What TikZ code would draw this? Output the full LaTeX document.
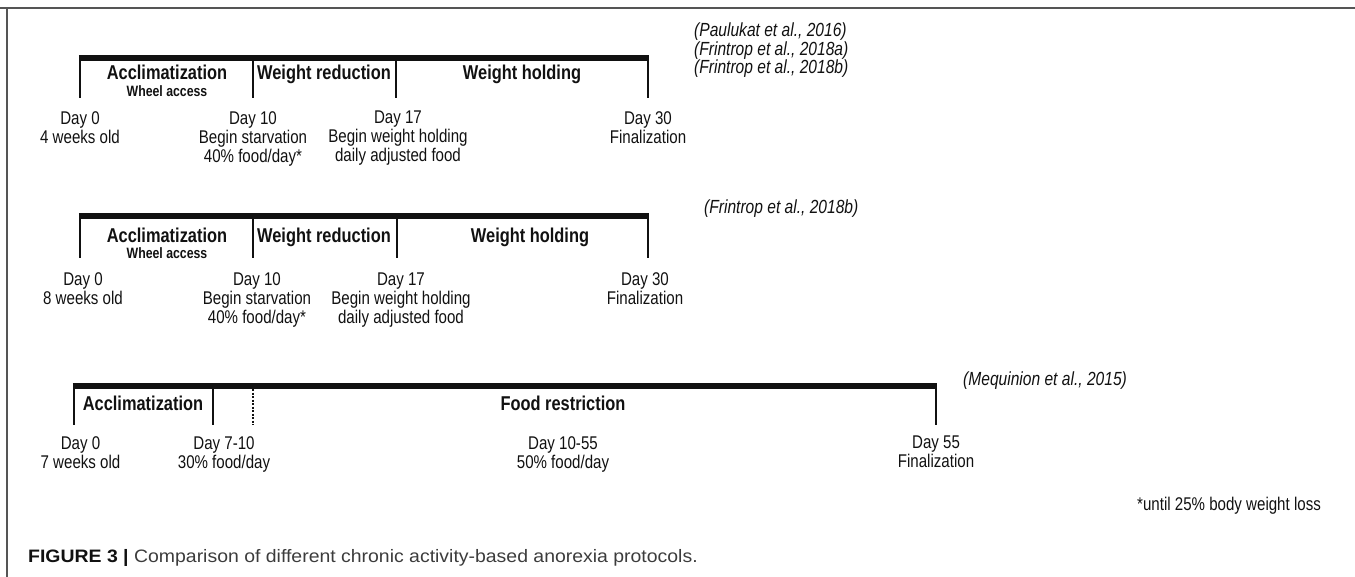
\documentclass[tikz,border=0pt]{standalone}
\usepackage{fontspec}
\setmainfont{Liberation Sans}[FakeStretch=0.82]
\newfontfamily\capfont{Liberation Sans}[FakeStretch=1.08]
\usepackage{tikz}

\definecolor{ink}{HTML}{111111}
\definecolor{framegray}{HTML}{555555}
\definecolor{capgray}{HTML}{3C3C3C}

\begin{document}
\begin{tikzpicture}[x=1pt, y=-1pt,
    bar/.style={line width=6pt, ink, shorten <=-1.25pt, shorten >=-1.25pt},
    tick/.style={line width=2.5pt, ink},
    dots/.style={line width=2pt, ink, dash pattern=on 2pt off 1.5pt, shorten <=3.5pt},
    phase/.style={font=\fontsize{20}{22}\selectfont\bfseries, text=ink, inner sep=0pt, anchor=base},
    sub/.style={font=\fontsize{15}{16}\selectfont\bfseries, text=ink, inner sep=0pt, anchor=base},
    day/.style={font=\fontsize{18.4}{19}\selectfont, text=ink, align=center, anchor=north, inner sep=0pt},
    cite/.style={font=\fontsize{19}{20}\selectfont\itshape, text=ink, anchor=base west, inner sep=0pt}]

    %% Background
    \useasboundingbox (0,0) rectangle (1355,577);
    \draw[framegray, line width=2pt] (0,8) -- (1355,8) (7,8) -- (7,577);

    % Protocol 1
    \coordinate (a0) at (80,58);
    \coordinate (a10) at (253,58);
    \coordinate (a17) at (396,58);
    \coordinate (a30) at (648,58);
    \coordinate (abot) at (0,98);

    \draw[bar] (a0) -- (a30);
    \foreach \t in {a0,a10,a17,a30}
    {
    \draw[tick] (\t) -- (\t |- abot);
    }

    \node[phase] (acca) at (167,80) {Acclimatization};
    \node[sub] (wheela) at (167,97) {Wheel access};
    \node[phase] (reda) at (324,80) {Weight reduction};
    \node[phase] (holda) at (522,80) {Weight holding};

    \node[day] (d0a) at (80,111) {Day 0\\4 weeks old};
    \node[day] (d10a) at (253,111) {Day 10\\Begin starvation\\40\% food/day*};
    \node[day] (d17a) at (398,111) {Day 17\\Begin weight holding\\daily adjusted food};
    \node[day] (d30a) at (648,111) {Day 30\\Finalization};

    \node[cite] (refa1) at (694,37) {(Paulukat et al., 2016)};
    \node[cite] (refa2) at ([yshift=-18.5pt]refa1.base west) {(Frintrop et al., 2018a)};
    \node[cite] (refa3) at ([yshift=-18.5pt]refa2.base west) {(Frintrop et al., 2018b)};

    % Protocol 2
    \coordinate (b0) at (80,216);
    \coordinate (b10) at (253,216);
    \coordinate (b17) at (397,216);
    \coordinate (b30) at (648,216);
    \coordinate (bbot) at (0,258);

    \draw[bar] (b0) -- (b30);
    \foreach \t in {b0,b10,b17,b30}
    {
    \draw[tick] (\t) -- (\t |- bbot);
    }

    \node[phase] (accb) at (167,243) {Acclimatization};
    \node[sub] (wheelb) at (167,258.5) {Wheel access};
    \node[phase] (redb) at (324,243) {Weight reduction};
    \node[phase] (holdb) at (530,243) {Weight holding};

    \node[day] (d0b) at (83,272.5) {Day 0\\8 weeks old};
    \node[day] (d10b) at (257,272.5) {Day 10\\Begin starvation\\40\% food/day*};
    \node[day] (d17b) at (401,272.5) {Day 17\\Begin weight holding\\daily adjusted food};
    \node[day] (d30b) at (645,272.5) {Day 30\\Finalization};

    \node[cite] (refb) at (704,214) {(Frintrop et al., 2018b)};

    % Protocol 3
    \coordinate (c0) at (74,385.5);
    \coordinate (c7) at (213,385.5);
    \coordinate (c10) at (253,385.5);
    \coordinate (c55) at (936,385.5);
    \coordinate (cbot) at (0,425);

    \draw[bar] (c0) -- (c55);
    \foreach \t in {c0,c7,c55}
    {
    \draw[tick] (\t) -- (\t |- cbot);
    }
    \draw[dots] (c10) -- (c10 |- cbot);

    \node[phase] (accc) at (143,410) {Acclimatization};
    \node[phase] (foodc) at (563,410) {Food restriction};

    \node[day] (d0c) at (80.5,436) {Day 0\\7 weeks old};
    \node[day] (d7c) at (224,436) {Day 7-10\\30\% food/day};
    \node[day] (d10c) at (563,436) {Day 10-55\\50\% food/day};
    \node[day] (d55c) at (936,436) {Day 55\\Finalization};

    \node[cite] (refc) at (963,385) {(Mequinion et al., 2015)};

    % Footnote and caption
    \node[day, anchor=north west] (note) at (1137,497) {*until 25\% body weight loss};

    \node[anchor=base west, inner sep=0pt, font=\capfont\fontsize{18}{20}\selectfont] (caption) at (28,562)
    {\textcolor{ink}{\bfseries FIGURE 3 |} \textcolor{capgray}{Comparison of different chronic activity-based anorexia protocols.}};

\end{tikzpicture}
\end{document}
